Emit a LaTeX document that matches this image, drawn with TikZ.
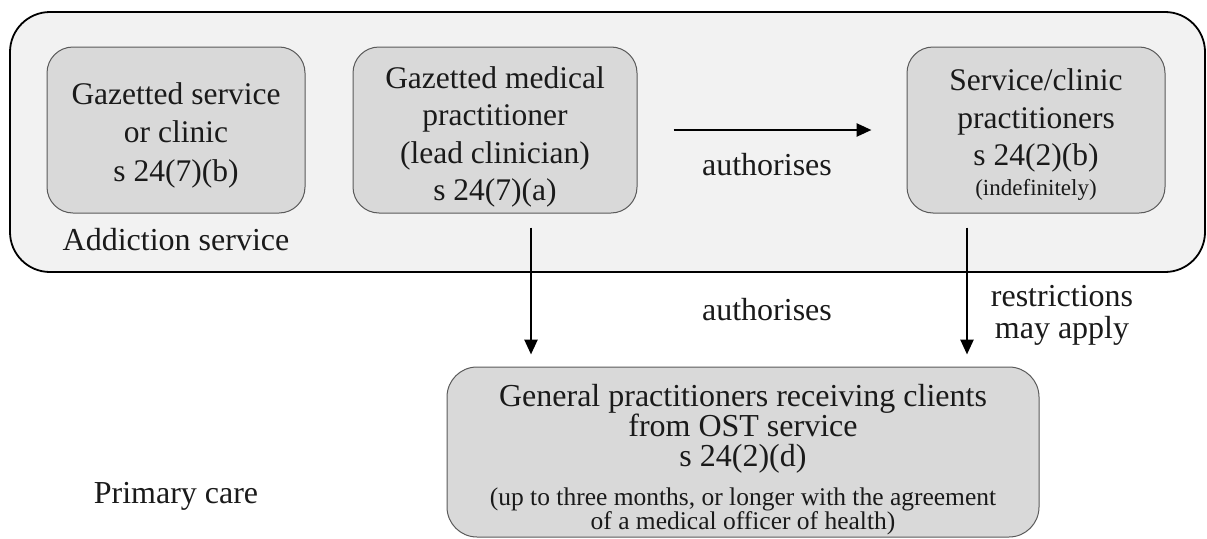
\documentclass[tikz,border=0pt]{standalone}
\usepackage{fontspec}
\setmainfont{Liberation Serif}
\usetikzlibrary{arrows.meta}
\definecolor{outerfill}{HTML}{F2F2F2}
\definecolor{boxfill}{HTML}{D9D9D9}
\definecolor{boxline}{HTML}{5A5A5A}
\definecolor{txt}{HTML}{1A1A1A}
\tikzset{
  outerbox/.style={draw=black, line width=1.8pt, fill=outerfill, rounded corners=40pt},
  innerbox/.style={draw=boxline, line width=1pt, fill=boxfill, rounded corners=26pt, inner sep=0pt},
  boxtext/.style={align=center, text=txt, inner sep=0pt, font=\fontsize{31.5}{37.5}\selectfont},
  lbl/.style={text=txt, align=center, inner sep=0pt, font=\fontsize{32}{32}\selectfont},
  arr/.style={draw=black, line width=2.6pt, -{Triangle[length=15pt,width=13pt]}}
}
\newcommand{\smtxt}[1]{{\fontsize{23}{24}\selectfont #1}}
\newcommand{\smtxtb}[1]{{\fontsize{25.5}{26}\selectfont #1}}
\begin{document}
\begin{tikzpicture}[x=1pt,y=-1pt]
\useasboundingbox (0,0) rectangle (1207,538);
\draw[outerbox] (10,12) rectangle (1205,272);
\node[innerbox, minimum width=258pt, minimum height=166pt] (b1) at (176,130) {};
\node[innerbox, minimum width=284pt, minimum height=166pt] (b2) at (495,130) {};
\node[innerbox, minimum width=258pt, minimum height=166pt] (b3) at (1036,130) {};
\node[innerbox, minimum width=592pt, minimum height=170pt, rounded corners=30pt] (b4) at (743,452) {};
\node[boxtext, font=\fontsize{31.5}{38.5}\selectfont] (b1t) at (176,135)
  {Gazetted service\\or clinic\\s 24(7)(b)};
\node[boxtext] (b2t) at (495,137)
  {Gazetted medical\\practitioner\\(lead clinician)\\s 24(7)(a)};
\node[boxtext] (b3t) at (1036,134.5)
  {Service/clinic\\practitioners\\s 24(2)(b)\\[-8pt]\smtxt{(indefinitely)}};
\node[lbl, font=\fontsize{32}{30}\selectfont] (b4t) at (743,460)
  {General practitioners receiving clients\\from OST service\\s 24(2)(d)\\[9pt]
   \smtxtb{(up to three months, or longer with the agreement}\\[-6pt]
   \smtxtb{of a medical officer of health)}};
\node[lbl] (addict) at (176,240) {Addiction service};
\node[lbl] (primary) at (176,496) {Primary care};
\node[lbl] (auth1) at (767,165) {authorises};
\node[lbl] (auth2) at (767,310) {authorises};
\node[lbl] (restr) at (1062,315) {restrictions\\may apply};
\draw[arr, shorten <=36pt, shorten >=35pt] (b2.east) -- (b3.west);
\draw[arr, shorten <=14pt, shorten >=12pt] ([xshift=36pt]b2.south) -- ([xshift=36pt]b2.south |- b4.north);
\draw[arr, shorten <=14pt, shorten >=12pt] ([xshift=-69pt]b3.south) -- ([xshift=-69pt]b3.south |- b4.north);
\end{tikzpicture}
\end{document}
